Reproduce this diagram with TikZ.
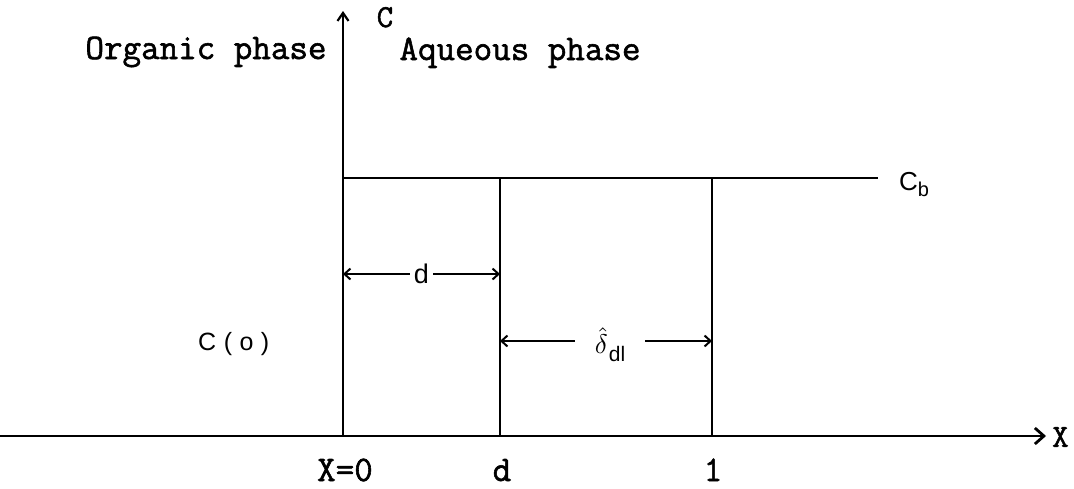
\documentclass[tikz,border=0pt]{standalone}
\usepackage{fontspec}
\usetikzlibrary{arrows.meta}
\newfontfamily\typew[FakeBold=1.6]{Latin Modern Mono}
\newfontfamily\sansf{Liberation Sans}
\newfontfamily\sanssp[LetterSpace=30]{Liberation Sans}
\tikzset{
  ln/.style={line width=2.5pt},
  xaxis/.style={ln,-{Straight Barb[length=9pt,width=16pt,line width=2.8pt]}},
  yaxis/.style={ln,-{Straight Barb[length=8pt,width=11pt,line width=2.2pt]}},
  dim/.style={line width=2.2pt,{Straight Barb[length=6pt,width=11pt,line width=2pt]}-{Straight Barb[length=6pt,width=11pt,line width=2pt]}},
  tw/.style={font=\typew\fontsize{36}{42}\selectfont, inner sep=0pt},
  twsmall/.style={font=\typew\fontsize{32}{38}\selectfont, inner sep=0pt},
  sl/.style={font=\sansf\fontsize{27}{32}\selectfont, inner sep=0pt},
}
\begin{document}
\begin{tikzpicture}[x=1pt,y=-1pt]
\useasboundingbox (0,0) rectangle (1074,488);
% coordinates
\coordinate (O) at (343,436);
\coordinate (xs) at (0,436);
\coordinate (xe) at (1046,436);
\coordinate (yt) at (343,11);
\coordinate (b0) at (343,178);
\coordinate (b1) at (500,178);
\coordinate (b2) at (712,178);
\coordinate (be) at (878,178);
\coordinate (d0) at (500,436);
\coordinate (l0) at (712,436);
\coordinate (da) at (343,274);
\coordinate (db) at (500,274);
\coordinate (ea) at (500,341);
\coordinate (eb) at (712,341);
% axes and lines
\draw[xaxis] (xs) -- (xe);
\draw[yaxis] (O) -- (yt);
\draw[ln] (b0) -- (be);
\draw[ln] (b1) -- (d0);
\draw[ln] (b2) -- (l0);
% dimensions
\draw[dim] (da) -- node[sl, fill=white, inner xsep=4pt, inner ysep=2pt] (dlab) {d} (db);
\draw[dim] (ea) -- node[fill=white, inner xsep=20pt, inner ysep=2pt, xshift=4pt, yshift=-4pt] (dellab)
  {\scalebox{2.7}{$\hat{\delta}$}\kern1pt\raisebox{-8pt}{\sansf\fontsize{21}{24}\selectfont dl}} (eb);
% labels
\node[tw, anchor=base] (org) at (206,59) {Organic phase};
\node[tw, anchor=base] (aq) at (520,60) {Aqueous phase};
\node[twsmall, anchor=base] (cy) at (385,27) {C};
\node[twsmall, anchor=west] (xl) at (1052,437) {X};
\node[tw, anchor=base] (x0) at (345,481) {X=0};
\node[tw, anchor=base] (dd) at (502,481) {d};
\node[tw, anchor=base] (one) at (713,481) {1};
\node[anchor=base west, inner sep=0pt] (cb) at (899,190) {\sansf\fontsize{26}{30}\selectfont C\raisebox{-6pt}{\fontsize{20}{24}\selectfont b}};
\node[anchor=base west, inner sep=0pt, font=\sanssp\fontsize{25}{30}\selectfont] (co) at (198,350) {C(o)};
\end{tikzpicture}
\end{document}
